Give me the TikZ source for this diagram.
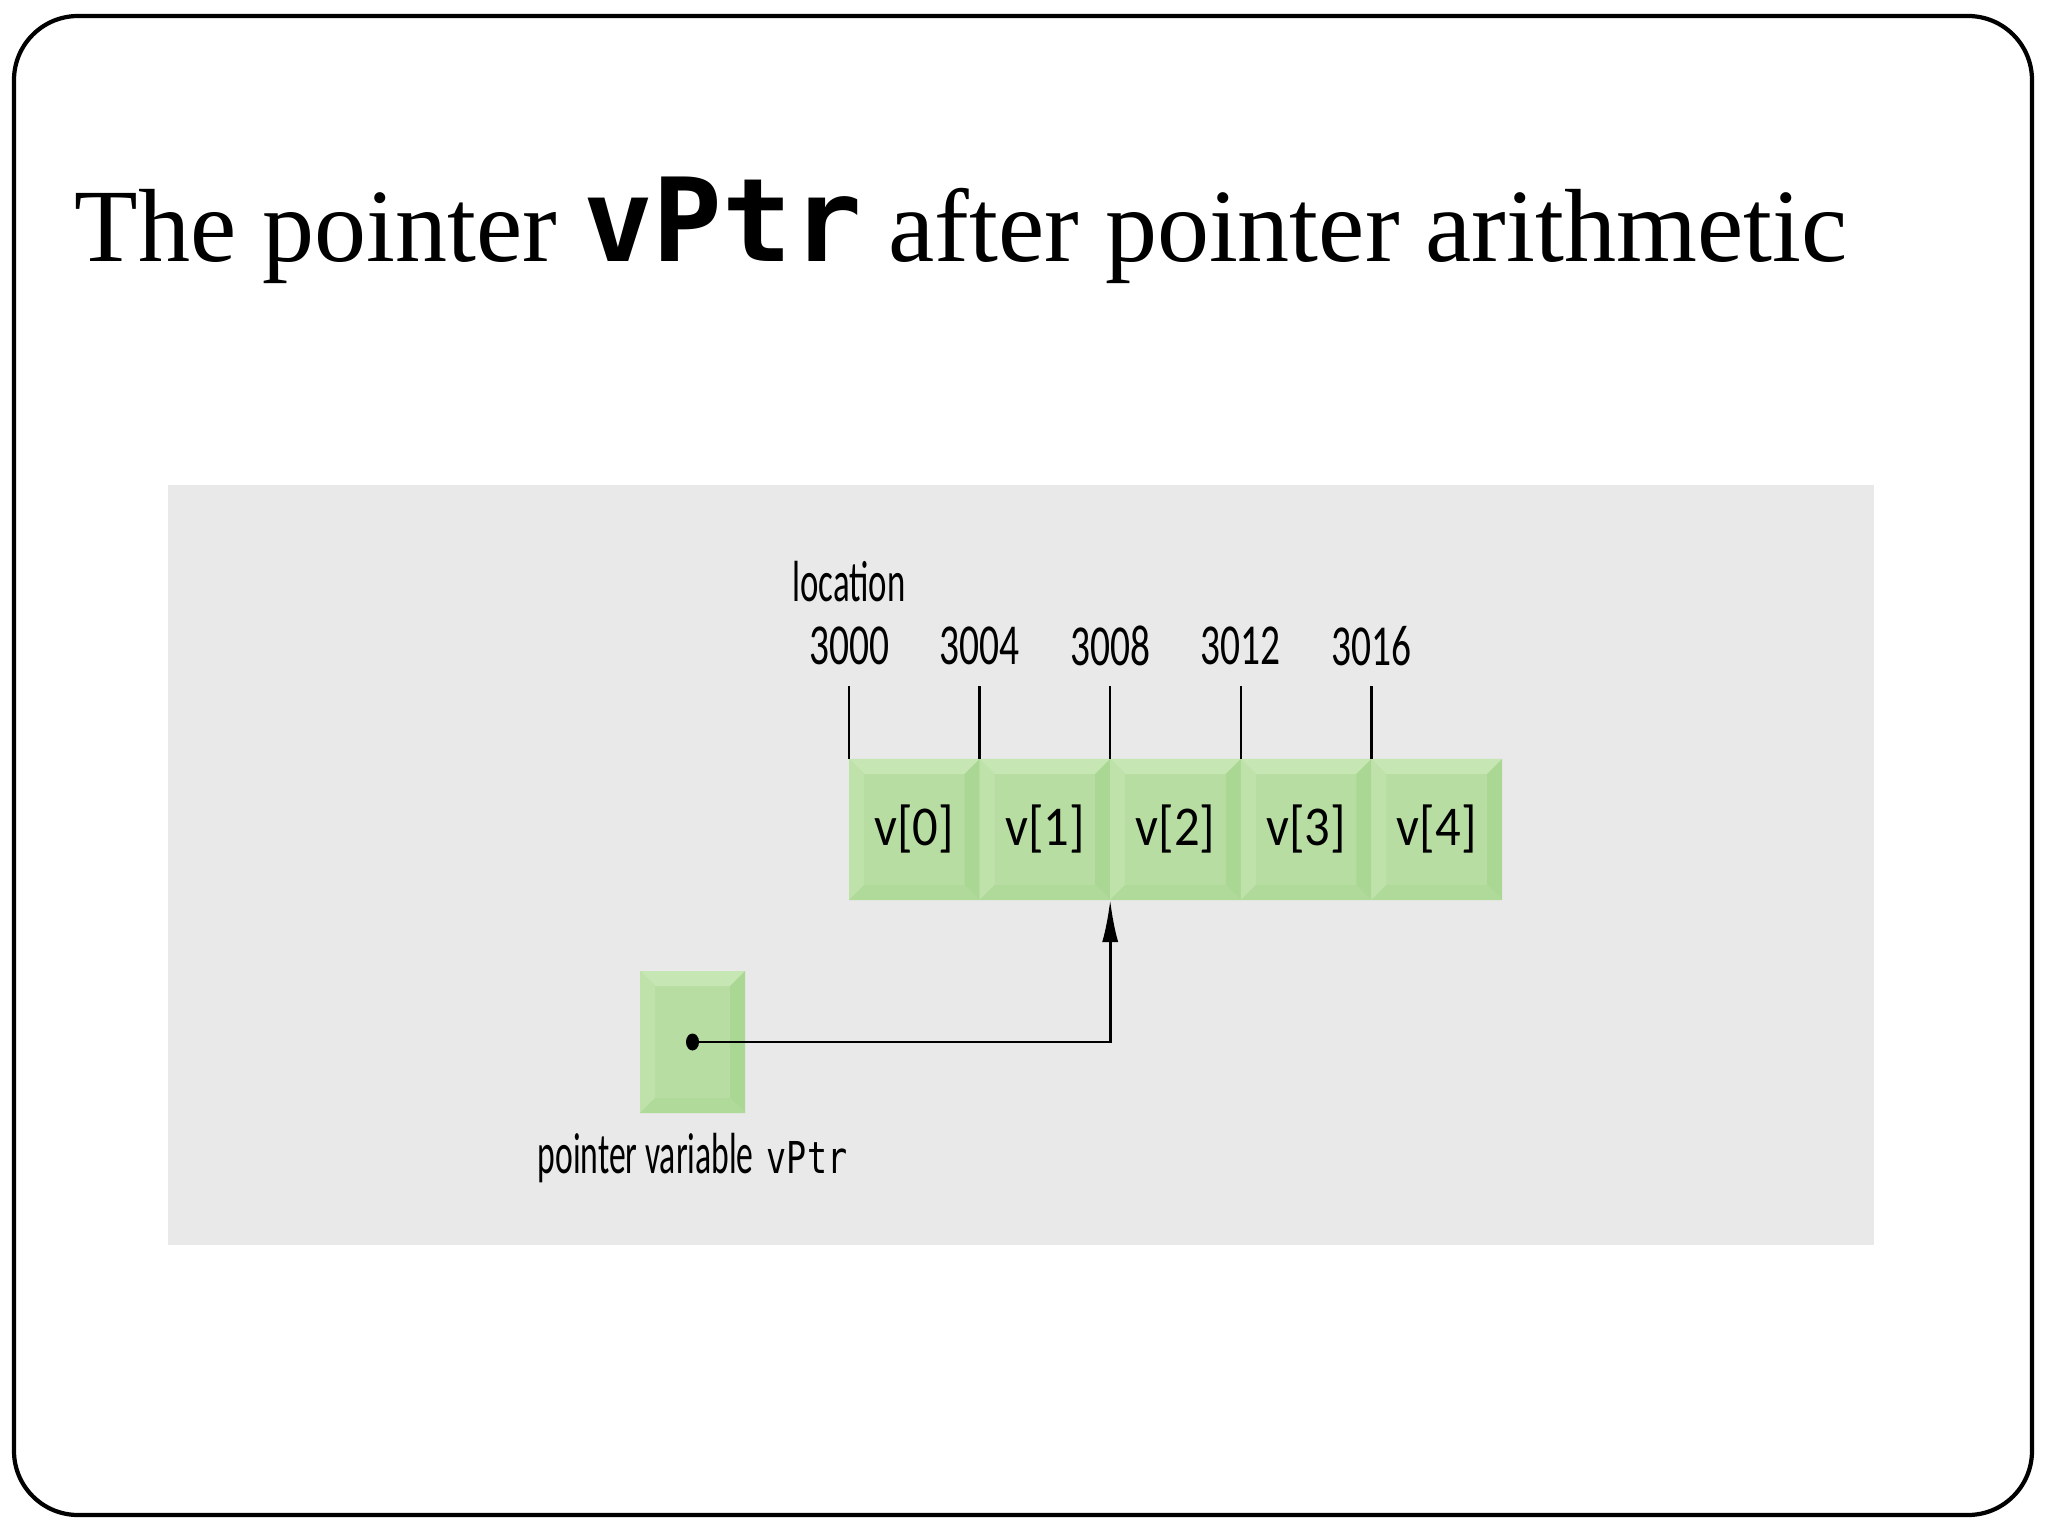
\documentclass[tikz,border=0pt]{standalone}
\usepackage{fontspec}
\setmainfont{Liberation Serif}
\newfontfamily\diagfont{Carlito}
\newfontfamily\codefont{DejaVu Sans Mono}
\usetikzlibrary{arrows.meta,positioning}

\definecolor{panelgray}{HTML}{E9E9E9}
\definecolor{cellface}{HTML}{B8DDA2}
\definecolor{celltop}{HTML}{C6E6B4}
\definecolor{cellleft}{HTML}{BFE2AB}
\definecolor{cellright}{HTML}{ABD795}
\definecolor{cellbottom}{HTML}{B0DA9A}

\tikzset{
  bevel/.style={inner sep=0pt,outer sep=0pt,fill=cellface,path picture={
    \coordinate (nw) at (path picture bounding box.north west);
    \coordinate (ne) at (path picture bounding box.north east);
    \coordinate (sw) at (path picture bounding box.south west);
    \coordinate (se) at (path picture bounding box.south east);
    \fill[celltop]    (nw)--(ne)--([shift={(-0.15,-0.15)}]ne)--([shift={(0.15,-0.15)}]nw)--cycle;
    \fill[cellleft]   (nw)--(sw)--([shift={(0.15,0.15)}]sw)--([shift={(0.15,-0.15)}]nw)--cycle;
    \fill[cellright]  (ne)--(se)--([shift={(-0.15,0.15)}]se)--([shift={(-0.15,-0.15)}]ne)--cycle;
    \fill[cellbottom] (sw)--(se)--([shift={(-0.15,0.15)}]se)--([shift={(0.15,0.15)}]sw)--cycle;
  }},
  cell/.style={bevel,minimum width=1.306cm,minimum height=1.41cm,
    font=\diagfont\fontsize{16}{16}\selectfont},
  addr/.style={font=\diagfont\fontsize{16.5}{16.5}\selectfont,inner sep=0pt},
}

\begin{document}
\begin{tikzpicture}[x=1cm,y=1cm]
\useasboundingbox (0,0) rectangle (20.48,-15.36);

% slide frame and grey panel
\draw[line width=1.2pt,rounded corners=0.64cm] (0.14,-0.16) rectangle (20.32,-15.15);
\fill[panelgray] (1.68,-4.85) rectangle (18.74,-12.45);

\node (title) at (0.74,-2.62) [anchor=base west,inner sep=0pt]
  {\fontsize{29.6}{30}\selectfont The pointer {\codefont\bfseries\fontsize{33}{33}\selectfont vPtr} after pointer arithmetic};

% the array
\node[cell] (c0) at (9.143,-8.295) {\scalebox{0.9}[1]{v[0]}};
\node[cell,right=0pt of c0] (c1) {\scalebox{0.9}[1]{v[1]}};
\node[cell,right=0pt of c1] (c2) {\scalebox{0.9}[1]{v[2]}};
\node[cell,right=0pt of c2] (c3) {\scalebox{0.9}[1]{v[3]}};
\node[cell,right=0pt of c3] (c4) {\scalebox{0.9}[1]{v[4]}};

% addresses
\node[addr] (a0) at ([yshift=1.13cm]c0.north west) {\scalebox{0.68}[1]{3000}};
\node[addr] (a1) at ([yshift=1.13cm]c1.north west) {\scalebox{0.68}[1]{3004}};
\node[addr] (a2) at ([yshift=1.13cm]c2.north west) {\scalebox{0.68}[1]{3008}};
\node[addr] (a3) at ([yshift=1.13cm]c3.north west) {\scalebox{0.68}[1]{3012}};
\node[addr] (a4) at ([yshift=1.13cm]c4.north west) {\scalebox{0.68}[1]{3016}};
\node[addr] (loc) at ([yshift=0.64cm]a0) {\scalebox{0.6}[1]{location}};

\draw[line width=0.7pt] (c0.north west) -- ++(0,0.73);
\draw[line width=0.7pt] (c1.north west) -- ++(0,0.73);
\draw[line width=0.7pt] (c2.north west) -- ++(0,0.73);
\draw[line width=0.7pt] (c3.north west) -- ++(0,0.73);
\draw[line width=0.7pt] (c4.north west) -- ++(0,0.73);

% pointer variable
\node[bevel,minimum width=1.05cm,minimum height=1.42cm] (p) at (6.925,-10.42) {};
\node[addr,below=0.2cm of p] (plabel)
  {\scalebox{0.58}[1]{pointer variable} {\codefont\fontsize{12.5}{12.5}\selectfont\scalebox{0.76}[1]{vPtr}}};

\fill (p.center) ellipse (0.065 and 0.085);
\draw[line width=0.8pt,-{Latex[length=4.2mm,width=1.6mm]}] (p.center) -| (c2.south west);

\end{tikzpicture}
\end{document}
